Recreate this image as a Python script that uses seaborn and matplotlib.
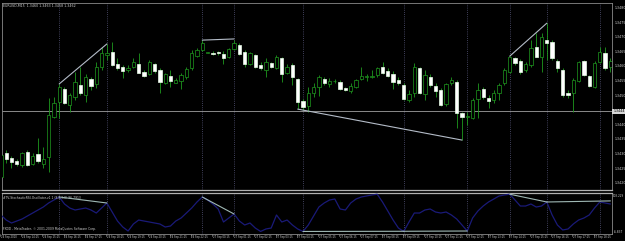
import matplotlib
matplotlib.use("Agg")
import matplotlib.pyplot as plt
import pandas as pd
import seaborn as sns

# ---------------- data ----------------
symbol_title = "EURUSD,M15  1.3460 1.3463 1.3458 1.3462"

opens = [1.34223,1.34303,1.34287,1.34276,1.34263,1.34308,1.34266,1.34299,1.34266,1.34289,
         1.34428,1.34479,1.34522,1.34468,1.34496,1.34536,1.34502,1.34557,1.34540,1.34599,
         1.34639,1.34648,1.34607,1.34597,1.34589,1.34599,1.34607,1.34582,1.34574,1.34607,
         1.34588,1.34544,1.34567,1.34544,1.34550,1.34563,1.34593,1.34637,1.34656,1.34647,
         1.34647,1.34648,1.34642,1.34631,1.34658,1.34673,1.34650,1.34610,1.34639,1.34604,
         1.34588,1.34613,1.34593,1.34628,1.34576,1.34604,1.34557,1.34483,1.34465,1.34510,
         1.34531,1.34557,1.34539,1.34549,1.34548,1.34525,1.34517,1.34528,1.34558,1.34563,
         1.34563,1.34571,1.34599,1.34584,1.34574,1.34553,1.34536,1.34485,1.34510,1.34593,
         1.34506,1.34563,1.34533,1.34519,1.34471,1.34544,1.34548,1.34442,1.34426,1.34422,
         1.34487,1.34522,1.34493,1.34485,1.34508,1.34542,1.34582,1.34628,1.34620,1.34588,
         1.34605,1.34667,1.34633,1.34692,1.34685,1.34618,1.34588,1.34508,1.34508,1.34551,
         1.34618,1.34567,1.34528,1.34616,1.34645,1.34599]
highs = [1.34328,1.34314,1.34294,1.34282,1.34308,1.34314,1.34303,1.34354,1.34325,1.34491,
         1.34496,1.34539,1.34528,1.34510,1.34582,1.34599,1.34574,1.34565,1.34616,1.34667,
         1.34677,1.34685,1.34628,1.34605,1.34605,1.34628,1.34645,1.34588,1.34622,1.34613,
         1.34593,1.34578,1.34588,1.34559,1.34576,1.34599,1.34656,1.34662,1.34689,1.34650,
         1.34654,1.34654,1.34654,1.34662,1.34692,1.34681,1.34656,1.34650,1.34642,1.34616,
         1.34628,1.34616,1.34639,1.34631,1.34608,1.34613,1.34559,1.34487,1.34528,1.34542,
         1.34571,1.34563,1.34561,1.34557,1.34553,1.34531,1.34542,1.34556,1.34599,1.34574,
         1.34588,1.34599,1.34616,1.34593,1.34585,1.34563,1.34542,1.34519,1.34613,1.34599,
         1.34588,1.34574,1.34544,1.34525,1.34542,1.34563,1.34553,1.34445,1.34445,1.34491,
         1.34544,1.34528,1.34502,1.34519,1.34544,1.34593,1.34635,1.34633,1.34624,1.34616,
         1.34690,1.34713,1.34713,1.34747,1.34690,1.34624,1.34593,1.34519,1.34559,1.34620,
         1.34622,1.34571,1.34618,1.34667,1.34667,1.34628]
lows = [1.34220,1.34268,1.34251,1.34260,1.34257,1.34260,1.34263,1.34268,1.34251,1.34240,
        1.34422,1.34422,1.34471,1.34445,1.34485,1.34502,1.34479,1.34519,1.34525,1.34588,
        1.34622,1.34601,1.34588,1.34559,1.34582,1.34593,1.34576,1.34565,1.34571,1.34578,
        1.34508,1.34540,1.34528,1.34542,1.34522,1.34558,1.34588,1.34633,1.34654,1.34645,
        1.34639,1.34638,1.34610,1.34628,1.34656,1.34639,1.34599,1.34605,1.34593,1.34588,
        1.34565,1.34593,1.34590,1.34548,1.34574,1.34536,1.34453,1.34451,1.34445,1.34496,
        1.34499,1.34536,1.34528,1.34542,1.34519,1.34517,1.34508,1.34525,1.34553,1.34551,
        1.34559,1.34565,1.34574,1.34563,1.34522,1.34536,1.34485,1.34479,1.34496,1.34506,
        1.34485,1.34528,1.34496,1.34465,1.34465,1.34536,1.34388,1.34348,1.34400,1.34419,
        1.34422,1.34487,1.34457,1.34474,1.34485,1.34536,1.34578,1.34605,1.34574,1.34582,
        1.34599,1.34631,1.34582,1.34622,1.34622,1.34582,1.34496,1.34491,1.34445,1.34548,
        1.34567,1.34531,1.34525,1.34613,1.34588,1.34582]
closes = [1.34297,1.34282,1.34273,1.34267,1.34303,1.34263,1.34294,1.34278,1.34282,1.34434,
          1.34474,1.34528,1.34474,1.34502,1.34548,1.34508,1.34563,1.34533,1.34599,1.34645,
          1.34646,1.34605,1.34593,1.34584,1.34594,1.34614,1.34578,1.34568,1.34614,1.34584,
          1.34548,1.34574,1.34549,1.34553,1.34569,1.34590,1.34645,1.34656,1.34679,1.34649,
          1.34643,1.34645,1.34628,1.34658,1.34679,1.34642,1.34608,1.34645,1.34599,1.34593,
          1.34616,1.34597,1.34633,1.34574,1.34599,1.34565,1.34479,1.34462,1.34508,1.34528,
          1.34563,1.34544,1.34550,1.34551,1.34522,1.34519,1.34534,1.34553,1.34568,1.34567,
          1.34568,1.34593,1.34578,1.34567,1.34548,1.34544,1.34487,1.34506,1.34597,1.34510,
          1.34571,1.34536,1.34517,1.34468,1.34540,1.34553,1.34439,1.34428,1.34430,1.34485,
          1.34519,1.34496,1.34483,1.34508,1.34536,1.34588,1.34633,1.34613,1.34582,1.34607,
          1.34662,1.34633,1.34699,1.34679,1.34628,1.34593,1.34502,1.34502,1.34553,1.34614,
          1.34571,1.34533,1.34613,1.34648,1.34593,1.34620]

osc_values = [44.2,30.7,22.7,28.0,33.4,41.5,49.5,57.6,65.6,76.4,
              84.4,92.5,73.7,62.9,57.6,60.3,62.9,57.6,49.5,62.9,
              76.4,52.2,28.0,11.9,1.2,20.0,30.7,28.0,25.4,22.7,
              20.0,11.9,14.6,28.0,36.1,49.5,62.9,79.1,92.5,84.4,
              73.7,60.3,25.4,36.1,46.8,28.0,17.3,22.7,9.2,0.0,
              6.6,9.2,44.2,25.4,30.7,17.3,6.6,0.0,17.3,41.5,
              65.6,76.4,84.4,87.1,60.3,57.6,76.4,87.1,92.5,95.2,
              97.9,100.0,79.1,54.9,30.7,9.2,0.0,25.4,49.5,49.5,
              57.6,60.3,52.2,49.5,52.2,44.2,33.4,17.3,1.2,36.1,
              54.9,68.3,79.1,87.1,95.2,97.9,100.0,84.4,68.3,68.3,
              73.7,65.6,68.3,79.1,44.2,17.3,3.9,6.6,20.0,30.7,
              36.1,44.2,62.9,79.1,76.4,73.7]

price_ticks = [1.3480, 1.3475, 1.3470, 1.3465, 1.3460, 1.3455, 1.3450,
               1.3440, 1.3435, 1.3430, 1.3425, 1.3420]
price_tick_labels = ["1.3480", "1.3475", "1.3470", "1.3465", "1.3460", "1.3455", "1.3450",
                     "1.3440", "1.3435", "1.3430", "1.3425", "1.3420"]
hline_price = 1.34446
hline_label = "1.3444"

time_labels = ["24 Sep 2010", "24 Sep 14:15", "24 Sep 15:15", "24 Sep 16:15", "24 Sep 17:15",
               "24 Sep 18:15", "24 Sep 19:15", "24 Sep 20:15", "24 Sep 21:15", "24 Sep 22:15",
               "27 Sep 00:15", "27 Sep 01:15", "27 Sep 02:15", "27 Sep 03:15", "27 Sep 04:15",
               "27 Sep 05:15", "27 Sep 06:15", "27 Sep 07:15", "27 Sep 08:15", "27 Sep 09:15",
               "27 Sep 10:15", "27 Sep 11:15", "27 Sep 12:15", "27 Sep 13:15", "27 Sep 14:15",
               "27 Sep 15:15", "27 Sep 16:15", "27 Sep 17:15", "27 Sep 18:15"]

osc_label = "#TV-StochasticRSI-Oscillator-v1.1 (8,8,3,8) 96.7913"
osc_max_label = "103.229"
osc_min_label = "-6.837"
osc_min, osc_max = -6.837, 103.229
copyright_text = "FXDD - MetaTrader, \u00a9 2001-2009 MetaQuotes Software Corp."

separator_bars = [11, 20, 38, 44, 57, 76, 88, 96, 103, 113]
price_div_bars = [(11, 20), (38, 44), (56, 87), (96, 103)]
price_div_values = [(1.34540, 1.34677), (1.34690, 1.34694), (1.34454, 1.34348), (1.34635, 1.34748)]
osc_div_bars = [(11, 20), (38, 44), (57, 76), (76, 88), (96, 103), (103, 115)]
osc_div_values = [(92.5, 76.4), (92.5, 46.8), (0.0, 0.5), (0.5, 1.2), (100.0, 79.1), (79.1, 82.0)]

# ---------------- styling ----------------
sns.set_theme(style="dark", rc={"axes.facecolor": "black", "figure.facecolor": "black",
                                "axes.grid": False})
plt.rcParams["font.family"] = ["DejaVu Sans"]

W, H = 625, 241
fig = plt.figure(figsize=(W / 100, H / 100), dpi=100)
fig.patch.set_facecolor("black")

def px_axes(x0, y0, x1, y1):
    return fig.add_axes([x0 / W, 1 - y1 / H, (x1 - x0) / W, (y1 - y0) / H])

ax = px_axes(2, 3, 612, 190)
ax2 = px_axes(2, 193, 612, 234)

n = len(opens)
bars = list(range(n))
xlim = (0.21, 115.3)
GREEN = "#1f9a1f"
TXT = "#d0d0d0"

for a in (ax, ax2):
    a.set_facecolor("black")
    a.set_xlim(*xlim)
    a.set_xticks([])
    a.set_yticks([])
    for s in a.spines.values():
        s.set_color("#8a8a8a")
        s.set_linewidth(0.6)
ax.spines["bottom"].set_color("#b0b0b0")
ax.spines["bottom"].set_linewidth(0.9)
ax2.spines["top"].set_color("#b0b0b0")
ax2.spines["top"].set_linewidth(0.9)

ax.set_ylim(1.341772, 1.348170)
ax2.set_ylim(osc_min, osc_max)

# separator lines
for b in separator_bars:
    for a in (ax, ax2):
        a.axvline(b, color="#56567a", lw=0.6, ls=(0, (1, 1.6)), zorder=1)

# horizontal price line
ax.axhline(hline_price, color="#a0a0a0", lw=0.6, zorder=1)

# candles
ax.vlines(bars, lows, highs, color=GREEN, lw=0.6, zorder=2)
for i in bars:
    o, c = opens[i], closes[i]
    bull = c >= o
    h = max(abs(c - o), 0.000012)
    ax.bar(i, h, bottom=min(o, c), width=0.62,
           color="black" if bull else "white",
           edgecolor=GREEN if bull else "#e8ffe8", linewidth=0.5, zorder=3)

# price divergence lines
for (b0, b1), (v0, v1) in zip(price_div_bars, price_div_values):
    ax.plot([b0, b1], [v0, v1], color="#b4bcc8", lw=0.8, zorder=4)

# oscillator
osc_df = pd.DataFrame({"bar": bars, "osc": osc_values})
sns.lineplot(data=osc_df, x="bar", y="osc", ax=ax2, color="#1a1a78", lw=0.9, zorder=3)
ax2.set_xlabel("")
ax2.set_ylabel("")
ax2.set_xticks([])
ax2.set_yticks([])
ax2.set_xlim(*xlim)
for (b0, b1), (v0, v1) in zip(osc_div_bars, osc_div_values):
    ax2.plot([b0, b1], [v0, v1], color="#9fb8b4", lw=0.8, zorder=4)

# right price axis labels
ytr = ax.get_yaxis_transform()
for p, lab in zip(price_ticks, price_tick_labels):
    ax.text(1.004, p, lab, transform=ytr, fontsize=2.3, color=TXT,
            ha="left", va="center", clip_on=False)
ax.text(1.002, hline_price, hline_label, transform=ytr, fontsize=2.3, color="black",
        ha="left", va="center", clip_on=False,
        bbox=dict(boxstyle="square,pad=0.25", fc="#d8d8d8", ec="none"))

ax2.text(1.002, 0.93, osc_max_label, transform=ax2.transAxes, fontsize=2.0, color=TXT,
         ha="left", va="center", clip_on=False)
ax2.text(1.003, 0.05, osc_min_label, transform=ax2.transAxes, fontsize=2.1, color=TXT,
         ha="left", va="center", clip_on=False)

# texts inside the panels
fig.text(3 / W, 1 - 4 / H, symbol_title, fontsize=2.3, color=TXT, ha="left", va="top")
ax2.text(0.002, 0.88, osc_label, transform=ax2.transAxes, fontsize=2.2, color=TXT,
         ha="left", va="center")
ax2.text(0.002, 0.12, copyright_text, transform=ax2.transAxes, fontsize=2.2, color=TXT,
         ha="left", va="center")

# time axis labels
xtr = ax2.get_xaxis_transform()
for k, lab in enumerate(time_labels):
    b = 4 * k
    ax2.text(b - 0.05, -0.075, lab, transform=xtr, fontsize=1.85, color=TXT,
             ha="left", va="center", clip_on=False)
    ax2.plot([b - 0.17, b - 0.17], [0.0, -0.04], transform=xtr, color="#8a8a8a",
             lw=0.5, clip_on=False)

fig.savefig("out.png", dpi=100, facecolor="black")
